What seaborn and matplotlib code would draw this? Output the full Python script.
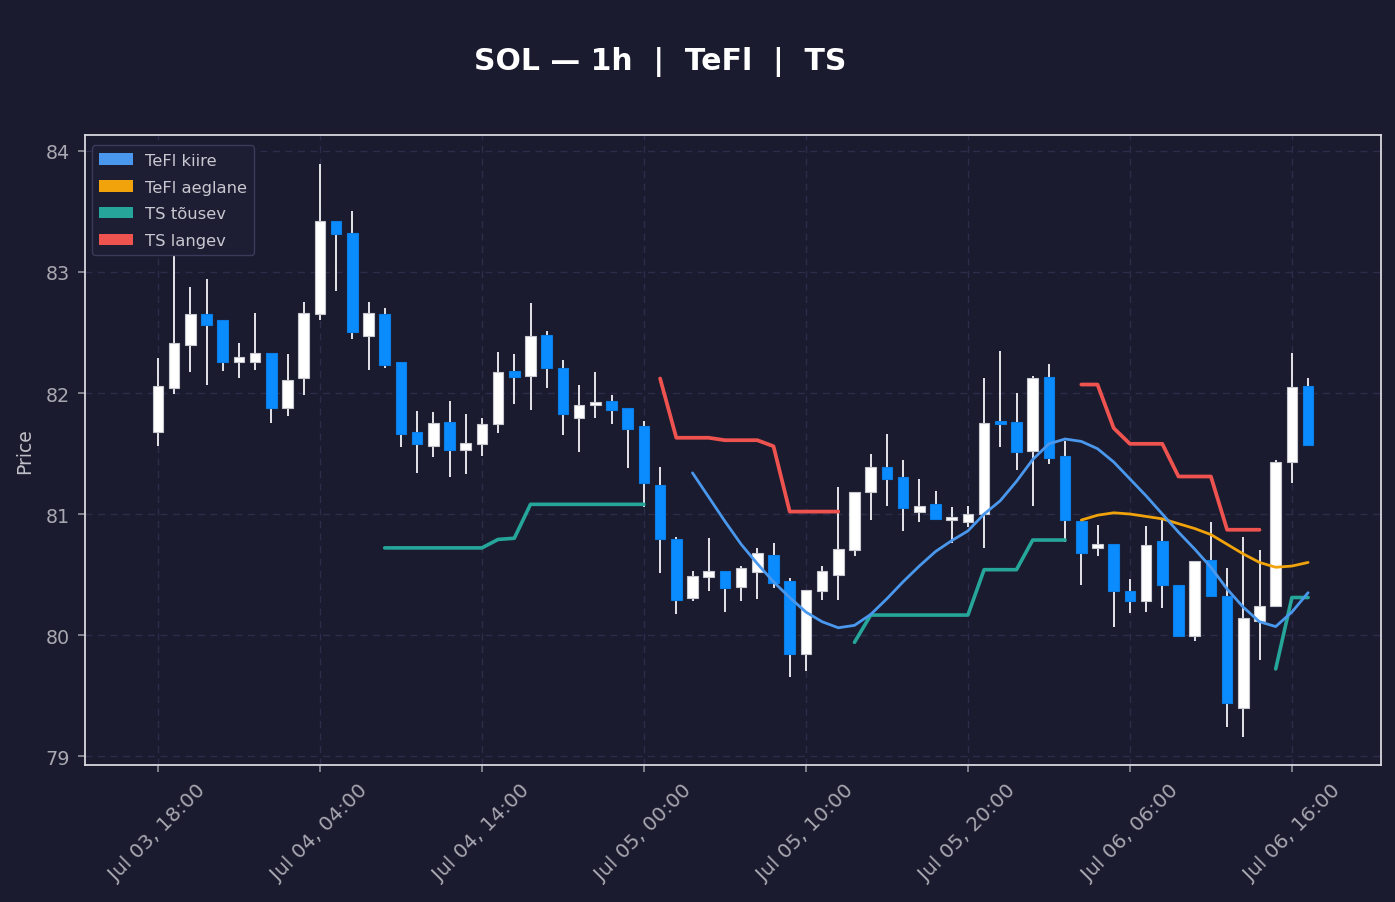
import numpy as np
import pandas as pd
import seaborn as sns
import matplotlib.pyplot as plt
import matplotlib.dates as mdates
from matplotlib.patches import Patch

# hourly candles, Jul 03 18:00 -> Jul 06 17:00
start = "2025-07-03 18:00"
n_bars = 72

opens = [81.68, 82.04, 82.40, 82.65, 82.60, 82.26, 82.26, 82.33, 81.88, 82.12,
         82.65, 83.42, 83.32, 82.47, 82.65, 82.26, 81.68, 81.56, 81.76, 81.53,
         81.58, 81.74, 82.18, 82.14, 82.48, 82.21, 81.79, 81.90, 81.93, 81.88,
         81.73, 81.24, 80.79, 80.31, 80.48, 80.53, 80.40, 80.52, 80.66, 80.45,
         79.84, 80.36, 80.50, 80.70, 81.18, 81.39, 81.31, 81.02, 81.08, 80.95,
         80.93, 81.00, 81.75, 81.76, 81.52, 82.13, 81.48, 80.94, 80.72, 80.75,
         80.36, 80.28, 80.78, 80.41, 79.99, 80.62, 80.32, 79.40, 80.12, 80.24,
         81.43, 82.06]
highs = [82.29, 83.15, 82.88, 82.94, 82.60, 82.41, 82.66, 82.33, 82.32, 82.75,
         83.89, 83.42, 83.50, 82.75, 82.70, 82.26, 81.85, 81.84, 81.93, 81.83,
         81.79, 82.34, 82.32, 82.74, 82.51, 82.27, 82.07, 82.17, 81.98, 81.88,
         81.77, 81.39, 80.81, 80.53, 80.80, 80.53, 80.57, 80.72, 80.76, 80.47,
         80.37, 80.57, 81.22, 81.18, 81.50, 81.66, 81.45, 81.29, 81.19, 81.06,
         81.07, 82.12, 82.35, 82.00, 82.14, 82.24, 81.60, 80.94, 80.91, 80.75,
         80.46, 80.90, 80.95, 80.41, 80.61, 80.93, 80.55, 80.81, 80.70, 81.45,
         82.33, 82.12]
lows = [81.56, 81.99, 82.17, 82.07, 82.18, 82.12, 82.19, 81.75, 81.81, 81.98,
        82.60, 82.84, 82.45, 82.19, 82.21, 81.55, 81.34, 81.47, 81.31, 81.33,
        81.48, 81.67, 81.91, 81.86, 82.04, 81.65, 81.51, 81.79, 81.74, 81.38,
        81.06, 80.51, 80.17, 80.28, 80.36, 80.19, 80.28, 80.30, 80.39, 79.65,
        79.70, 80.29, 80.29, 80.65, 80.95, 81.07, 80.86, 80.93, 80.96, 80.76,
        80.89, 80.72, 81.55, 81.36, 81.07, 81.41, 80.77, 80.41, 80.65, 80.07,
        80.18, 80.19, 80.22, 79.98, 79.95, 80.32, 79.24, 79.16, 79.79, 80.24,
        81.26, 81.57]
closes = [82.06, 82.41, 82.65, 82.56, 82.26, 82.30, 82.33, 81.88, 82.11, 82.66,
          83.42, 83.31, 82.50, 82.66, 82.23, 81.66, 81.58, 81.75, 81.53, 81.59,
          81.74, 82.17, 82.13, 82.47, 82.21, 81.83, 81.90, 81.92, 81.86, 81.70,
          81.26, 80.79, 80.29, 80.49, 80.53, 80.39, 80.55, 80.68, 80.43, 79.84,
          80.37, 80.53, 80.71, 81.18, 81.39, 81.29, 81.05, 81.07, 80.96, 80.97,
          81.00, 81.75, 81.74, 81.51, 82.12, 81.46, 80.95, 80.68, 80.75, 80.36,
          80.28, 80.74, 80.41, 79.99, 80.61, 80.32, 79.44, 80.14, 80.24, 81.43,
          82.05, 81.57]

N = None
tefl_kiire = [N] * 33 + [81.34, 81.14, 80.94, 80.75, 80.59, 80.44, 80.31, 80.19, 80.11, 80.06,
                         80.08, 80.17, 80.30, 80.44, 80.57, 80.69, 80.78, 80.86, 81.00, 81.11,
                         81.27, 81.45, 81.58, 81.62, 81.60, 81.54, 81.43, 81.29, 81.15, 81.00,
                         80.85, 80.71, 80.56, 80.38, 80.23, 80.11, 80.07, 80.19, 80.35]
tefl_aeglane = [N] * 57 + [80.95, 80.99, 81.01, 81.00, 80.98, 80.96, 80.92, 80.88, 80.83, 80.75,
                           80.67, 80.60, 80.56, 80.57, 80.60]
ts_tousev = ([N] * 14 + [80.72] * 7 + [80.79, 80.80] + [81.08] * 8 + [N] * 12
             + [79.94] + [80.165] * 7 + [80.54] * 3 + [80.785] * 3 + [N] * 12
             + [79.72, 80.31, 80.31])
ts_langev = ([N] * 31 + [82.12, 81.63, 81.63, 81.63, 81.61, 81.61, 81.61, 81.56,
                         81.02, 81.02, 81.02, 81.02] + [N] * 14
             + [82.07, 82.07, 81.71, 81.58, 81.58, 81.58, 81.31, 81.31, 81.31,
                80.87, 80.87, 80.87] + [N] * 3)

BG = "#1a1b2e"
UP = "#ffffff"
DOWN = "#0a8cff"
line_colors = {"TeFl kiire": "#4a98ee", "TeFl aeglane": "#f0a30a",
               "TS tõusev": "#26a69a", "TS langev": "#ef5350"}
line_widths = {"TeFl kiire": 2.0, "TeFl aeglane": 2.0, "TS tõusev": 2.6, "TS langev": 2.7}

sns.set_theme(style="dark", rc={
    "figure.facecolor": BG, "axes.facecolor": BG, "savefig.facecolor": BG,
    "axes.edgecolor": "#d8d8e0", "axes.linewidth": 1.3,
    "xtick.color": "#8e8e98", "ytick.color": "#8e8e98",
    "xtick.labelcolor": "#a8a8b2", "ytick.labelcolor": "#a8a8b2",
    "xtick.bottom": True, "ytick.left": True,
    "xtick.major.size": 5, "ytick.major.size": 5,
    "axes.labelcolor": "#c0c0c8", "text.color": "white",
})
plt.rcParams["font.family"] = ["DejaVu Sans"]

dates = pd.date_range(start, periods=n_bars, freq="h")
df = pd.DataFrame({"time": dates, "open": opens, "high": highs, "low": lows, "close": closes})
df["up"] = df["close"] >= df["open"]

fig = plt.figure(figsize=(13.95, 9.03), dpi=100)
ax = fig.add_axes([85 / 1395, 1 - 766 / 903, (1381 - 85) / 1395, (766 - 136) / 903])

# candles
bar_w = 0.66 / 24
colors = np.where(df["up"], UP, DOWN)
edges = np.where(df["up"], "#c8c8d0", "#0a7ee6")
ax.vlines(df["time"], df["low"], df["high"], color="#e4e4ea", linewidth=1.4, zorder=2)
body_lo = df[["open", "close"]].min(axis=1)
body_h = (df["close"] - df["open"]).abs().clip(lower=0.025)
ax.bar(df["time"], body_h, bottom=body_lo, width=bar_w, color=colors,
       edgecolor=edges, linewidth=0.8, zorder=3)

# indicator lines, broken into segments where the series is missing
for name, vals in [("TS tõusev", ts_tousev), ("TS langev", ts_langev),
                   ("TeFl aeglane", tefl_aeglane), ("TeFl kiire", tefl_kiire)]:
    s = pd.Series(vals, dtype=float)
    seg = s.isna().cumsum()
    ld = pd.DataFrame({"time": dates, "value": s, "seg": seg}).dropna()
    sns.lineplot(data=ld, x="time", y="value", units="seg", estimator=None,
                 color=line_colors[name], linewidth=line_widths[name], ax=ax, zorder=4)

ax.set_xlim(dates[0] - pd.Timedelta(hours=4.5), dates[0] + pd.Timedelta(hours=75.5))
ax.set_ylim(78.926, 84.132)
ax.set_yticks([79, 80, 81, 82, 83, 84])
ax.set_xticks(dates[::10])
ax.xaxis.set_major_formatter(mdates.DateFormatter("%b %d, %H:%M"))
plt.setp(ax.get_xticklabels(), rotation=45, ha="center")
ax.tick_params(axis="x", labelsize=14.5, pad=6)
ax.tick_params(axis="y", labelsize=13.8, pad=6)
ax.grid(True, color="#2c2d4a", linestyle=(0, (5, 4)), linewidth=1.0)
ax.set_axisbelow(True)
ax.set_xlabel("")
ax.set_ylabel("Price", fontsize=13.5, labelpad=8)

handles = [Patch(facecolor=c, edgecolor="none", label=k) for k, c in line_colors.items()]
leg = ax.legend(handles=handles, loc="upper left", fontsize=11.8, frameon=True,
                facecolor="#1d1e34", edgecolor="#3a3b5a", labelcolor="#c8c8d0",
                handlelength=2.1, handleheight=0.7, borderpad=0.45, labelspacing=0.72,
                handletextpad=0.7, borderaxespad=0.4, bbox_to_anchor=(0.0, 0.994))
leg.get_frame().set_alpha(1.0)

fig.text(660 / 1395, 1 - 62 / 903, "SOL — 1h  |  TeFl  |  TS", ha="center", va="center",
         fontsize=21.5, fontweight="bold", color="white")

fig.savefig("out.png", dpi=100, facecolor=BG)
